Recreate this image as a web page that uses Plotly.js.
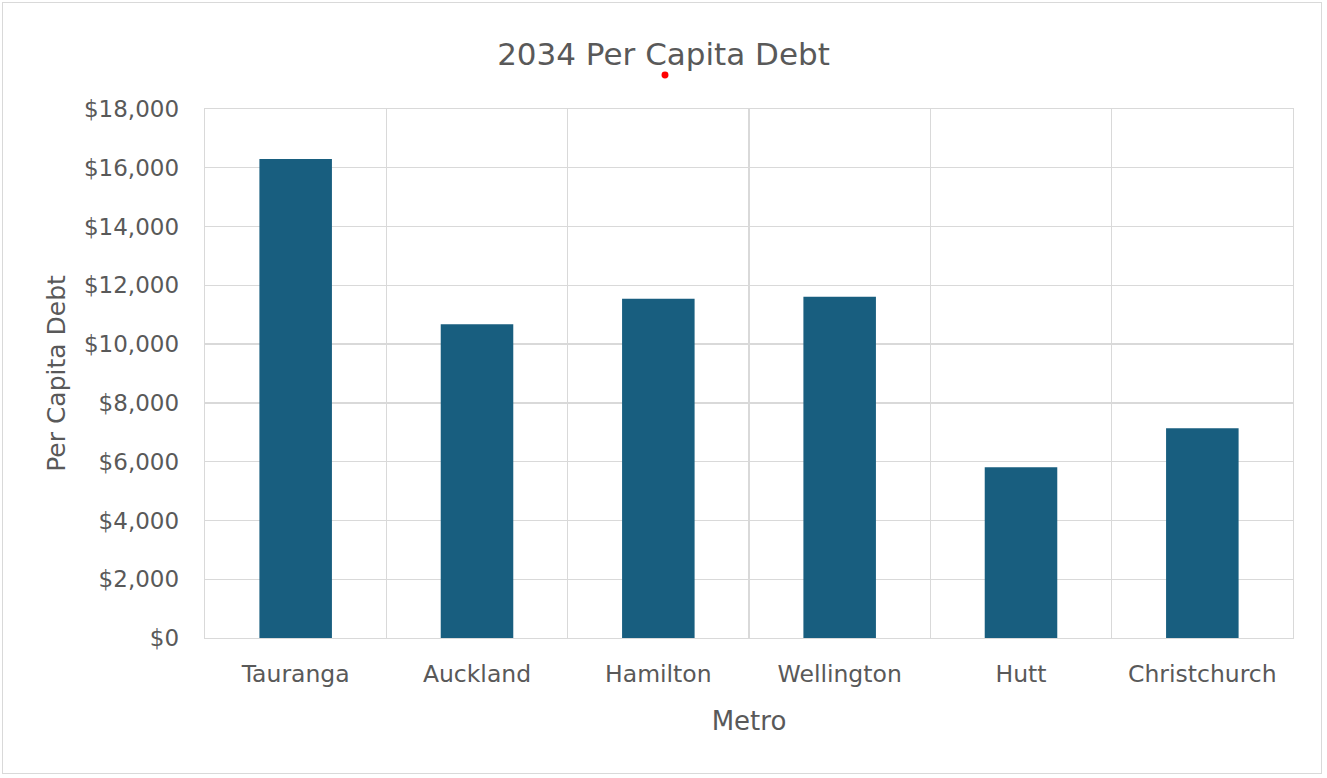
<!DOCTYPE html>
<html>
<head>
<meta charset="utf-8">
<script src="https://cdn.plot.ly/plotly-3.0.1.min.js"></script>
<style>
  html, body { margin: 0; padding: 0; background: #ffffff; }
  #frame { position: absolute; left: 2px; top: 2px; width: 1320px; height: 772px; border: 1px solid #d9d9d9; box-sizing: border-box; }
  #chart { position: absolute; left: 0; top: 0; width: 1327px; height: 778px; }
</style>
</head>
<body>
<div id="frame"></div>
<div id="chart"></div>
<script>
const metros = ["Tauranga", "Auckland", "Hamilton", "Wellington", "Hutt", "Christchurch"];
const perCapitaDebt = [16300, 10680, 11540, 11610, 5810, 7140];
const yTickValues = [0, 2000, 4000, 6000, 8000, 10000, 12000, 14000, 16000, 18000];
const yTickLabels = ["$0", "$2,000", "$4,000", "$6,000", "$8,000", "$10,000", "$12,000", "$14,000", "$16,000", "$18,000"];

const trace = {
  type: "bar",
  x: metros,
  y: perCapitaDebt,
  width: 0.4,
  marker: { color: "#185e7f", line: { width: 0 } },
  hoverinfo: "x+y"
};

const FONT = "DejaVu Sans, Verdana, sans-serif";

const layout = {
  width: 1327,
  height: 778,
  paper_bgcolor: "rgba(0,0,0,0)",
  plot_bgcolor: "#ffffff",
  margin: { l: 205, r: 34, t: 109, b: 140 },
  showlegend: false,
  title: {
    text: "2034 Per Capita Debt",
    x: 0.5, xref: "container", xanchor: "center",
    y: 44, yref: "container", yanchor: "middle",
    font: { family: FONT, size: 31, color: "#595959" }
  },
  xaxis: {
    type: "category",
    tickson: "boundaries",
    showgrid: true,
    gridcolor: "#d9d9d9",
    gridwidth: 1.3,
    showline: true,
    linecolor: "#d9d9d9",
    linewidth: 1.3,
    mirror: true,
    ticks: "",
    ticklabelstandoff: 14,
    tickfont: { family: FONT, size: 23.5, color: "#595959" },
    title: { text: "Metro", standoff: 25, font: { family: FONT, size: 26, color: "#595959" } }
  },
  yaxis: {
    range: [0, 18000],
    tickvals: yTickValues,
    ticktext: yTickLabels,
    showgrid: true,
    gridcolor: "#d9d9d9",
    gridwidth: 1.3,
    zeroline: false,
    showline: true,
    linecolor: "#d9d9d9",
    linewidth: 1.3,
    mirror: true,
    ticks: "",
    ticklabelstandoff: 20,
    tickfont: { family: FONT, size: 23, color: "#595959" },
    title: { text: "Per Capita Debt", standoff: 11, font: { family: FONT, size: 25, color: "#595959" } }
  },
  shapes: [
    { type: "circle", xref: "paper", yref: "paper", x0: 0.4196, x1: 0.4260, y0: 1.0577, y1: 1.0709, fillcolor: "#ff0000", line: { width: 0 } }
  ]
};

Plotly.newPlot("chart", [trace], layout, { displayModeBar: false, staticPlot: true });
</script>
</body>
</html>
